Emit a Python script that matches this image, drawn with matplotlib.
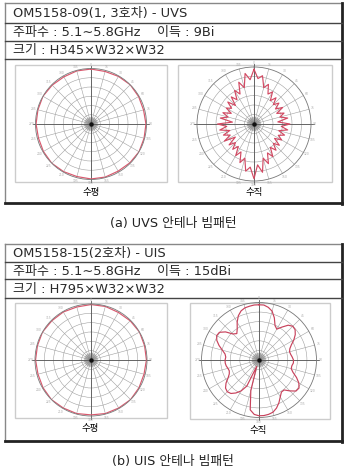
import numpy as np
import matplotlib.pyplot as plt
from matplotlib.patches import Rectangle

plt.rcParams['font.family'] = ['DejaVu Sans', 'Noto Sans CJK KR']

W, H = 347, 469

# table texts
uvs_rows = ["OM5158-09(1, 3호차) - UVS",
            "주파수 : 5.1∼5.8GHz    이득 : 9Bi",
            "크기 : H345×W32×W32"]
uis_rows = ["OM5158-15(2호차) - UIS",
            "주파수 : 5.1∼5.8GHz    이득 : 15dBi",
            "크기 : H795×W32×W32"]
sub_labels = ["수평", "수직"]
captions = ["(a) UVS 안테나 빔패턴", "(b) UIS 안테나 빔패턴"]
deg_labels = [str(d) for d in range(0, 360, 15)]

# horizontal patterns (every 15 deg), normalized radius
uvs_h = [0.99, 0.98, 0.99, 1.0, 0.99, 0.98, 0.99, 0.99, 1.0, 0.99, 0.98, 0.99,
         0.99, 0.98, 0.99, 1.0, 0.99, 0.98, 0.99, 0.99, 1.0, 0.99, 0.98, 0.99]
uis_h = [0.99, 0.99, 0.98, 0.99, 1.0, 0.99, 0.99, 0.98, 0.99, 1.0, 0.99, 0.99,
         0.98, 0.99, 0.99, 1.0, 0.99, 0.98, 0.99, 0.99, 1.0, 0.99, 0.99, 0.98]

# vertical patterns (every 5 deg)
uvs_v = [0.96, 0.80, 0.86, 0.66, 0.74, 0.58, 0.65, 0.50, 0.60, 0.48, 0.57, 0.46,
         0.58, 0.44, 0.56, 0.47, 0.60, 0.42, 0.63, 0.48, 0.60, 0.45, 0.57, 0.47,
         0.56, 0.44, 0.58, 0.48, 0.60, 0.50, 0.66, 0.56, 0.74, 0.62, 0.86, 0.72,
         0.96, 0.76, 0.84, 0.62, 0.72, 0.54, 0.64, 0.48, 0.58, 0.46, 0.57, 0.40,
         0.60, 0.46, 0.57, 0.44, 0.61, 0.48, 0.64, 0.38, 0.60, 0.47, 0.58, 0.44,
         0.56, 0.48, 0.60, 0.46, 0.62, 0.52, 0.68, 0.58, 0.78, 0.66, 0.90, 0.78]
uis_v = [0.96, 0.96, 0.93, 0.88, 0.78, 0.66, 0.62, 0.70, 0.79, 0.83, 0.82, 0.77,
         0.70, 0.62, 0.57, 0.55, 0.56, 0.58, 0.60, 0.60, 0.58, 0.58, 0.63, 0.72,
         0.80, 0.85, 0.84, 0.76, 0.68, 0.68, 0.74, 0.82, 0.89, 0.94, 0.96, 0.97,
         0.97, 0.95, 0.88, 0.55, 0.12, 0.50, 0.62, 0.70, 0.76, 0.78, 0.76, 0.70,
         0.62, 0.57, 0.55, 0.56, 0.58, 0.59, 0.59, 0.58, 0.60, 0.66, 0.74, 0.81,
         0.85, 0.84, 0.76, 0.64, 0.60, 0.66, 0.76, 0.85, 0.91, 0.94, 0.95, 0.96]

fig = plt.figure(figsize=(W / 100, H / 100), dpi=100)
bg = fig.add_axes([0, 0, 1, 1])
bg.set_xlim(0, W)
bg.set_ylim(H, 0)
bg.axis('off')


def draw_table(top, rows_y, bottom, texts):
    x0, x1 = 5, 342
    bg.plot([x0, x1], [top, top], color='#888888', lw=1)
    bg.plot([x0, x0], [top, bottom], color='#888888', lw=1)
    bg.plot([x1, x1], [top, bottom + 1], color='#222222', lw=2)
    bg.plot([x0, x1], [bottom, bottom], color='#222222', lw=2)
    for y in rows_y:
        bg.plot([x0, x1], [y, y], color='#444444', lw=1)
    edges = [top] + list(rows_y)
    for i, t in enumerate(texts):
        yc = (edges[i] + edges[i + 1]) / 2
        bg.text(13, yc + 0.5, t, fontsize=9.4, va='center', ha='left', color='#2a2a2a')


def polar(cx, cy, r, h_vals, step, color):
    ax = fig.add_axes([(cx - r) / W, 1 - (cy + r) / H, 2 * r / W, 2 * r / H],
                      projection='polar')
    ax.set_theta_zero_location('N')
    ax.set_theta_direction(-1)
    ax.set_ylim(0, 1)
    ax.set_rgrids(np.arange(1, 6) / 6, labels=[])
    ax.set_thetagrids(np.arange(0, 360, 15), labels=[])
    ax.grid(color='#a0a0a0', lw=0.4)
    ax.spines['polar'].set_color('#777777')
    ax.spines['polar'].set_linewidth(0.6)
    ax.patch.set_alpha(0)
    for a in np.arange(0, 360, 5):
        ax.plot([np.radians(a)] * 2, [0, 0.12], color='#888888', lw=0.25)
    for a in (0, 90, 180, 270):
        ax.plot([np.radians(a)] * 2, [0, 1.05], color='#555555', lw=0.6, clip_on=False)
    for a, lab in zip(range(0, 360, 15), deg_labels):
        ax.text(np.radians(a), 1.07, lab, fontsize=2.2, color='#aaaaaa',
                ha='center', va='center')
    ax.plot([0], [0], 'o', color='#111111', ms=2.2)
    th = np.radians(np.arange(0, 360, step))
    vals = np.array(h_vals)
    ax.plot(np.append(th, th[0]), np.append(vals, vals[0]), color=color, lw=0.85)
    return ax


def frame(x0, y0, x1, y1):
    bg.add_patch(Rectangle((x0, y0), x1 - x0, y1 - y0, fill=True, fc='white',
                           ec='#cccccc', lw=1))


# (a) UVS
draw_table(3, [23, 41, 59], 203, uvs_rows)
frame(15, 65, 167, 182)
frame(178, 65, 332, 182)
bg.text(91, 192, sub_labels[0], fontsize=6.8, ha='center', va='center')
bg.text(254, 193, sub_labels[1], fontsize=6.8, ha='center', va='center')
bg.text(173, 224, captions[0], fontsize=9.2, ha='center', va='center', color='#222222')
polar(91, 124, 55.5, uvs_h, 15, '#d9596e')
polar(254, 124, 57, uvs_v, 5, '#d24a63')

# (b) UIS
draw_table(244, [262, 279, 298], 441, uis_rows)
frame(15, 303, 167, 418)
frame(190, 303, 330, 419)
bg.text(90, 429, sub_labels[0], fontsize=6.8, ha='center', va='center')
bg.text(258, 430, sub_labels[1], fontsize=6.8, ha='center', va='center')
bg.text(173, 461, captions[1], fontsize=9.2, ha='center', va='center', color='#222222')
polar(91, 360, 56, uis_h, 15, '#d9596e')
polar(259, 360, 57.5, uis_v, 5, '#c8425c')

fig.savefig('out.png', dpi=100)
